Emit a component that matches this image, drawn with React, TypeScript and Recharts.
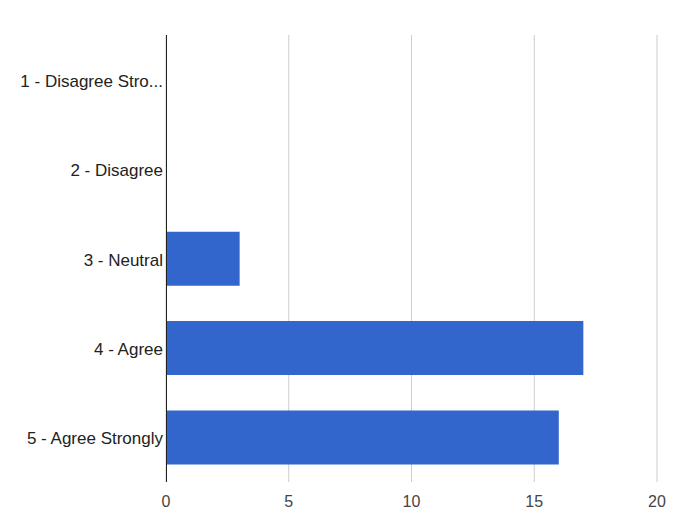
import { BarChart, Bar, XAxis, YAxis, CartesianGrid } from 'recharts';

const categories = [
  '1 - Disagree Strongly',
  '2 - Disagree',
  '3 - Neutral',
  '4 - Agree',
  '5 - Agree Strongly',
];
const counts = [0, 0, 3, 17, 16];
const xTicks = [0, 5, 10, 15, 20];

const data = categories.map((name, i) => ({ name, count: counts[i] }));

// long labels get cut like the original ("1 - Disagree Stro...")
const shorten = (s: string) => (s.length > 18 ? s.slice(0, 17) + '...' : s);

const font = 'Arial, "Liberation Sans", sans-serif';

export default function App() {
  return (
    <div style={{ position: 'absolute', left: 0, top: 0, width: 676, height: 524, background: '#fff' }}>
      <BarChart
        width={676}
        height={524}
        data={data}
        layout="vertical"
        margin={{ top: 35, right: 19, left: 0, bottom: 0 }}
        barCategoryGap="20%"
      >
        <CartesianGrid horizontal={false} stroke="#cccccc" />
        <XAxis
          type="number"
          domain={[0, 20]}
          ticks={xTicks}
          axisLine={false}
          tickLine={false}
          tickSize={0}
          tickMargin={14}
          height={42}
          tick={{ fill: '#444444', fontSize: 16, fontFamily: font }}
        />
        <YAxis
          type="category"
          dataKey="name"
          width={166}
          tickLine={false}
          tickSize={0}
          tickMargin={3}
          axisLine={{ stroke: '#222222', strokeWidth: 1, shapeRendering: 'crispEdges' }}
          tickFormatter={shorten}
          interval={0}
          tick={{ fill: '#222222', fontSize: 17, fontFamily: font, dy: 1 }}
        />
        <Bar dataKey="count" fill="#3366cc" isAnimationActive={false} />
      </BarChart>
    </div>
  );
}
